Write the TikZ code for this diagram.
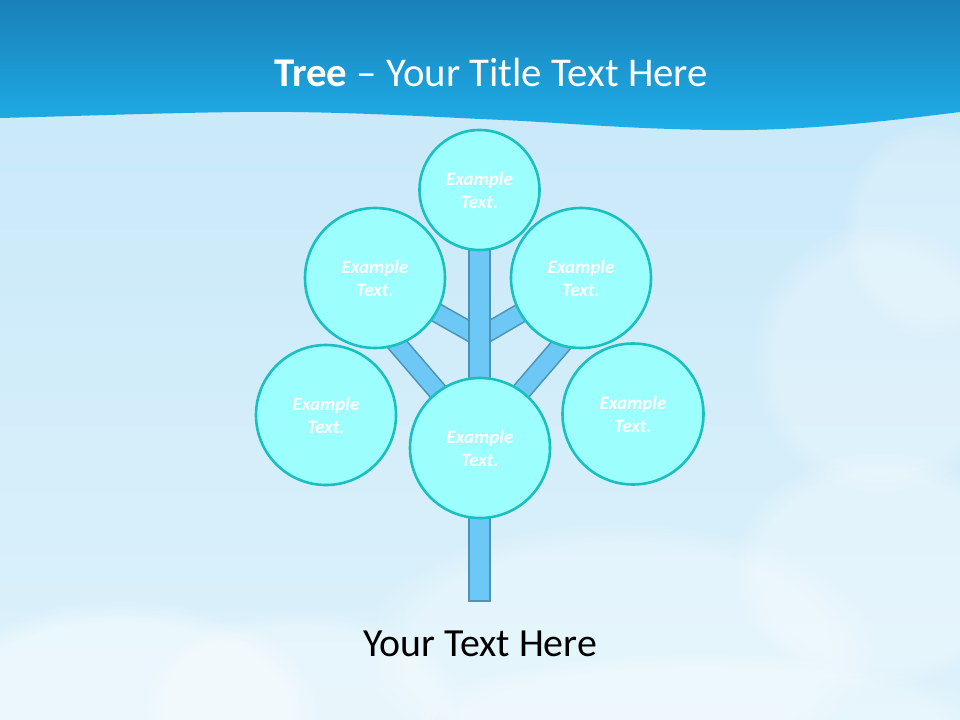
\documentclass[tikz,border=0pt]{standalone}
\usepackage{fontspec}
\setmainfont{Carlito}
\usetikzlibrary{fadings}
\definecolor{skytop}{HTML}{C6E7F9}
\definecolor{skybot}{HTML}{DDF2FB}
\definecolor{bandtop}{HTML}{1A80B9}
\definecolor{bandbot}{HTML}{1EAEE8}
\definecolor{barfill}{HTML}{6DC8F5}
\definecolor{barline}{HTML}{4C94B6}
\definecolor{leaffill}{HTML}{9CFFFE}
\definecolor{leafline}{HTML}{1ABFC0}
\tikzset{
  leaf/.style={circle, draw=leafline, fill=leaffill, line width=2.6bp,
    inner sep=0pt, minimum size=#1, align=center, text=white,
    font=\fontsize{19}{23}\selectfont\bfseries\itshape},
  branch/.style={draw=barline, line width=1.6bp, double=barfill, double distance=17bp},
  trunkbar/.style={draw=barline, fill=barfill, line width=1.6bp},
  cloud/.style={fill=white, path fading=circle with fuzzy edge 20 percent},
}
\begin{document}
\begin{tikzpicture}[x=1bp,y=-1bp]
\useasboundingbox (0,0) rectangle (960,720);
% sky
\shade[top color=skytop, bottom color=skybot] (0,0) rectangle (960,720);
% clouds
\fill[cloud, opacity=0.45] (120,710) ellipse (200 and 110);
\fill[cloud, opacity=0.35] (300,700) ellipse (160 and 90);
\fill[cloud, opacity=0.3] (620,650) ellipse (260 and 130);
\fill[cloud, opacity=0.3] (880,570) ellipse (150 and 120);
\fill[cloud, opacity=0.25] (880,360) ellipse (130 and 140);
\fill[cloud, opacity=0.2] (930,230) ellipse (90 and 110);
\fill[cloud, opacity=0.3] (700,730) ellipse (300 and 80);
% top band
\shade[top color=bandtop, bottom color=bandbot]
  (0,0) -- (960,0) -- (960,112)
  .. controls (880,122) and (800,131) .. (720,130)
  .. controls (620,129) and (560,122) .. (480,119)
  .. controls (400,115) and (320,111) .. (240,112)
  .. controls (160,113) and (80,116) .. (0,118) -- cycle;
\node[text=white, font=\fontsize{41}{44}\selectfont, anchor=base] (title) at (491,87)
  {\textbf{Tree} – Your Title Text Here};
% tree coordinates
\coordinate (jup) at (479.5,337);
\coordinate (jlow) at (479.5,440);
\coordinate (ulend) at (390,336);
\coordinate (urend) at (569,336);
\coordinate (ttop) at (479.5,245);
\coordinate (tbot) at (479.5,601);
% leaf positions
\path (479.5,190) coordinate (p1)
      (375,278) coordinate (p2)
      (581,278) coordinate (p3)
      (326,415) coordinate (p4)
      (633,414) coordinate (p5)
      (480,448) coordinate (p6);
% branches
\draw[branch] (jup) -- (p2);
\draw[branch] (jup) -- (p3);
\draw[branch] (jlow) -- (ulend);
\draw[branch] (jlow) -- (urend);
% trunk
\draw[trunkbar] ([xshift=-10.5bp]ttop) rectangle ([xshift=10.5bp]tbot);
% leaves
\node[leaf=120bp] (c1) at (p1) {Example\\Text.};
\node[leaf=140bp] (c2) at (p2) {Example\\Text.};
\node[leaf=140bp] (c3) at (p3) {Example\\Text.};
\node[leaf=140bp] (c4) at (p4) {Example\\Text.};
\node[leaf=141bp] (c5) at (p5) {Example\\Text.};
\node[leaf=140bp] (c6) at (p6) {Example\\Text.};
% caption
\node[text=black, font=\fontsize{40}{44}\selectfont, anchor=base] (caption) at (480,656) {Your Text Here};
\end{tikzpicture}
\end{document}
